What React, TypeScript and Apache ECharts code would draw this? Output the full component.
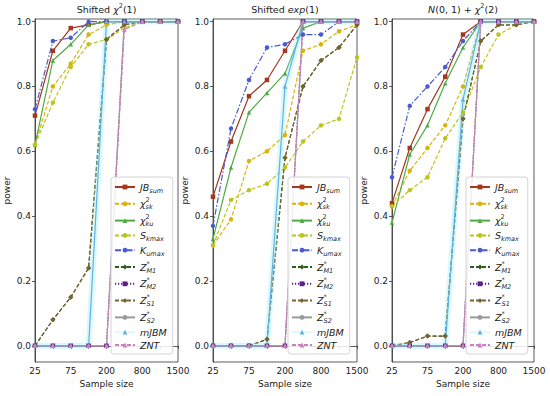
import React, { useEffect, useRef } from "react";
import * as echarts from "echarts";

const categories = ["25", "50", "75", "100", "200", "500", "800", "1000", "1500"];
const yTicks = [0, 0.2, 0.4, 0.6, 0.8, 1.0];
const seriesNames = ["JBsum", "chi2sk", "chi2ku", "Skmax", "Kumax", "ZM1", "ZM2", "ZS1", "ZS2", "mJBM", "ZNT"];

// Panel 1: Shifted chi2(1)
const p1JBsum = [0.71, 0.91, 0.98, 0.99, 1, 1, 1, 1, 1];
const p1Chi2sk = [0.62, 0.8, 0.87, 0.96, 0.99, 1, 1, 1, 1];
const p1Chi2ku = [0.62, 0.88, 0.93, 0.99, 1, 1, 1, 1, 1];
const p1Skmax = [0.62, 0.75, 0.86, 0.93, 0.945, 0.98, 1, 1, 1];
const p1Kumax = [0.73, 0.94, 0.95, 1, 1, 1, 1, 1, 1];
const p1ZM1 = [0, 0.08, 0.15, 0.24, 0.945, 0.99, 1, 1, 1];
const p1ZM2 = [0, 0, 0, 0, 0, 1, 1, 1, 1];
const p1ZS1 = [0, 0.08, 0.15, 0.24, 0.945, 0.99, 1, 1, 1];
const p1ZS2 = [0, 0, 0, 0, 0, 1, 1, 1, 1];
const p1mJBM = [0, 0, 0, 0, 1, 1, 1, 1, 1];
const p1ZNT = [0, 0, 0, 0, 0, 0.975, 1, 1, 1];

// Panel 2: Shifted exp(1)
const p2JBsum = [0.46, 0.63, 0.77, 0.82, 0.91, 1, 1, 1, 1];
const p2Chi2sk = [0.31, 0.39, 0.57, 0.6, 0.65, 0.91, 0.93, 0.97, 0.99];
const p2Chi2ku = [0.33, 0.55, 0.72, 0.78, 0.84, 0.98, 1, 1, 1];
const p2Skmax = [0.31, 0.45, 0.48, 0.5, 0.55, 0.63, 0.68, 0.7, 0.89];
const p2Kumax = [0.37, 0.67, 0.82, 0.92, 0.93, 0.96, 0.96, 1, 1];
const p2ZM1 = [0, 0, 0, 0.02, 0.58, 0.8, 0.88, 0.92, 0.99];
const p2ZM2 = [0, 0, 0, 0, 0, 1, 1, 1, 1];
const p2ZS1 = [0, 0, 0, 0.02, 0.58, 0.8, 0.88, 0.92, 0.99];
const p2ZS2 = [0, 0, 0, 0, 0, 1, 1, 1, 1];
const p2mJBM = [0, 0, 0, 0, 0.8, 1, 1, 1, 1];
const p2ZNT = [0, 0, 0, 0, 0, 1, 1, 1, 1];

// Panel 3: N(0,1) + chi2(2)
const p3JBsum = [0.44, 0.61, 0.73, 0.83, 0.96, 1, 1, 1, 1];
const p3Chi2sk = [0.43, 0.54, 0.61, 0.68, 0.8, 1, 1, 1, 1];
const p3Chi2ku = [0.38, 0.59, 0.68, 0.81, 0.92, 1, 1, 1, 1];
const p3Skmax = [0.43, 0.48, 0.52, 0.64, 0.72, 0.86, 0.96, 0.99, 1];
const p3Kumax = [0.52, 0.74, 0.8, 0.86, 0.94, 1, 1, 1, 1];
const p3ZM1 = [0, 0.01, 0.03, 0.03, 0.7, 0.94, 0.99, 0.99, 1];
const p3ZM2 = [0, 0, 0, 0, 0, 1, 1, 1, 1];
const p3ZS1 = [0, 0.01, 0.03, 0.03, 0.7, 0.94, 0.99, 0.99, 1];
const p3ZS2 = [0, 0, 0, 0, 0, 1, 1, 1, 1];
const p3mJBM = [0, 0, 0, 0, 0.76, 1, 1, 1, 1];
const p3ZNT = [0, 0, 0, 0, 0, 1, 1, 1, 1];

const panelData = [
  [p1JBsum, p1Chi2sk, p1Chi2ku, p1Skmax, p1Kumax, p1ZM1, p1ZM2, p1ZS1, p1ZS2, p1mJBM, p1ZNT],
  [p2JBsum, p2Chi2sk, p2Chi2ku, p2Skmax, p2Kumax, p2ZM1, p2ZM2, p2ZS1, p2ZS2, p2mJBM, p2ZNT],
  [p3JBsum, p3Chi2sk, p3Chi2ku, p3Skmax, p3Kumax, p3ZM1, p3ZM2, p3ZS1, p3ZS2, p3mJBM, p3ZNT],
];

const panelTitles = [
  "Shifted {i|χ}{sup|2}(1)",
  "Shifted {i|exp}(1)",
  "{i|N}(0, 1) + {i|χ}{sup|2}(2)",
];

const legendLabels: Record<string, string> = {
  JBsum: "{i|JB}{sub|sum}",
  chi2sk: "{i|χ}{ssup|2}{sub|sk}",
  chi2ku: "{i|χ}{ssup|2}{sub|ku}",
  Skmax: "{i|S}{sub|kmax}",
  Kumax: "{i|K}{sub|umax}",
  ZM1: "{i|Z}{ssup|*}{sub|M1}",
  ZM2: "{i|Z}{ssup|*}{sub|M2}",
  ZS1: "{i|Z}{ssup|*}{sub|S1}",
  ZS2: "{i|Z}{ssup|*}{sub|S2}",
  mJBM: "{i|mJBM}",
  ZNT: "{i|ZNT}",
};

const FONT = "DejaVu Sans";
const DASH = [4, 2];
const DOT = [1.2, 1.8];
const DASHDOT = [6, 2, 1.5, 2];

const seriesStyle: Record<string, any> = {
  JBsum: { color: "#a4381f", line: "solid", symbol: "rect", size: 4.5 },
  chi2sk: { color: "#d8b40c", line: DASH, symbol: "circle", size: 4.5 },
  chi2ku: { color: "#52aa45", line: "solid", symbol: "triangle", size: 4.5 },
  Skmax: { color: "#bcc41e", line: DASH, symbol: "circle", size: 4.5 },
  Kumax: { color: "#4a5ad0", line: DASHDOT, symbol: "circle", size: 4.5 },
  ZM1: { color: "#2a5e1c", line: DASH, symbol: "diamond", size: 5 },
  ZM2: { color: "#5e1f8c", line: DOT, symbol: "rect", size: 4.5 },
  ZS1: { color: "#7c6232", line: DASH, symbol: "diamond", size: 5 },
  ZS2: { color: "#9a9a9a", line: "solid", symbol: "circle", size: 3 },
  mJBM: { color: "#62b0e4", line: "solid", symbol: "triangle", size: 4.5 },
  ZNT: { color: "#cf7fc0", line: DASH, symbol: "triangle", size: 4.5 },
};

const gridBoxes = [
  { left: 35, width: 143 },
  { left: 213, width: 144 },
  { left: 392, width: 142 },
];
const GRID_TOP = 19;
const GRID_H = 343;
const legendLefts = [111, 288, 466];

const legendRich = {
  i: { fontStyle: "italic", fontSize: 9.5, lineHeight: 14, fontFamily: FONT, color: "#222" },
  sub: { fontStyle: "italic", fontSize: 6.5, lineHeight: 8, verticalAlign: "bottom", fontFamily: FONT, color: "#222" },
  ssup: { fontSize: 6.5, lineHeight: 8, verticalAlign: "top", width: 0, fontFamily: FONT, color: "#222" },
};

export default function App() {
  const ref = useRef<HTMLDivElement>(null);
  useEffect(() => {
    if (!ref.current) return;
    const chart = echarts.init(ref.current, undefined, { renderer: "svg" });

    const grids = gridBoxes.map((g) => ({
      left: g.left,
      top: GRID_TOP,
      width: g.width,
      height: GRID_H,
      show: true,
      borderColor: "#333",
      borderWidth: 0.8,
      backgroundColor: "transparent",
    }));

    const xAxes = gridBoxes.map((_, i) => ({
      type: "category",
      gridIndex: i,
      data: categories,
      boundaryGap: false,
      axisLine: { show: true, lineStyle: { color: "#333", width: 0.8 } },
      axisTick: { show: true, interval: 0, length: 3, lineStyle: { color: "#333", width: 0.8 } },
      axisLabel: { interval: 1, fontSize: 9, color: "#222", fontFamily: FONT, margin: 4 },
      splitLine: { show: false },
      name: "Sample size",
      nameLocation: "middle",
      nameGap: 17,
      nameTextStyle: { fontSize: 9, color: "#222", fontFamily: FONT },
    }));

    const yAxes = gridBoxes.map((_, i) => ({
      type: "value",
      gridIndex: i,
      min: -0.05,
      max: 1.008,
      axisLine: { show: true, lineStyle: { color: "#333", width: 0.8 } },
      axisTick: { show: true, length: 3, customValues: yTicks, lineStyle: { color: "#333", width: 0.8 } },
      axisLabel: {
        customValues: yTicks,
        formatter: (v: number) => v.toFixed(1),
        fontSize: 9,
        color: "#222",
        fontFamily: FONT,
        margin: 4,
      },
      splitLine: { show: false },
      name: "power",
      nameLocation: "middle",
      nameGap: 24,
      nameRotate: 90,
      nameTextStyle: { fontSize: 9, color: "#222", fontFamily: FONT },
    }));

    const series: any[] = [];
    panelData.forEach((arrs, p) => {
      seriesNames.forEach((name, k) => {
        const st = seriesStyle[name];
        if (name === "mJBM") {
          series.push({
            name,
            type: "line",
            xAxisIndex: p,
            yAxisIndex: p,
            data: arrs[k],
            symbol: st.symbol,
            symbolSize: st.size,
            lineStyle: { color: "rgba(140,235,245,0.32)", width: 6, type: "solid" },
            itemStyle: { color: st.color },
          });
          series.push({
            name: "mJBM-core",
            type: "line",
            xAxisIndex: p,
            yAxisIndex: p,
            data: arrs[k],
            symbol: "none",
            lineStyle: { color: st.color, width: 1.2, type: "solid" },
          });
        } else {
          series.push({
            name,
            type: "line",
            xAxisIndex: p,
            yAxisIndex: p,
            data: arrs[k],
            symbol: st.symbol,
            symbolSize: st.size,
            lineStyle: { color: st.color, width: 1.2, type: st.line },
            itemStyle: { color: st.color },
          });
        }
      });
    });

    const legends = legendLefts.map((l) => ({
      data: seriesNames,
      orient: "vertical",
      left: l,
      top: 177,
      itemWidth: 20,
      itemHeight: 6,
      itemGap: 2.8,
      padding: [5, 6, 4, 3],
      backgroundColor: "rgba(255,255,255,0.85)",
      borderColor: "#d4d4d4",
      borderWidth: 1,
      borderRadius: 3,
      selectedMode: false,
      formatter: (name: string) => legendLabels[name] || name,
      textStyle: { fontFamily: FONT, fontSize: 9.5, color: "#222", rich: legendRich },
    }));

    const titleRich = {
      i: { fontStyle: "italic", fontSize: 9.5, fontFamily: FONT, fill: "#222", lineHeight: 14 },
      sup: { fontSize: 6.5, fontFamily: FONT, fill: "#222", lineHeight: 9, verticalAlign: "top" },
    };
    const graphics = gridBoxes.map((g, i) => ({
      type: "text",
      x: g.left + g.width / 2,
      y: 9,
      style: {
        text: panelTitles[i],
        rich: titleRich,
        fontSize: 9.5,
        fontFamily: FONT,
        fill: "#222",
        align: "center",
        verticalAlign: "middle",
        lineHeight: 14,
      },
    }));

    chart.setOption({
      animation: false,
      backgroundColor: "#fff",
      textStyle: { fontFamily: FONT },
      grid: grids,
      xAxis: xAxes,
      yAxis: yAxes,
      legend: legends,
      series,
      graphic: graphics,
    });
    return () => chart.dispose();
  }, []);
  return (
    <div
      ref={ref}
      style={{ position: "fixed", left: 0, top: 0, width: 550, height: 396, background: "#fff" }}
    />
  );
}
